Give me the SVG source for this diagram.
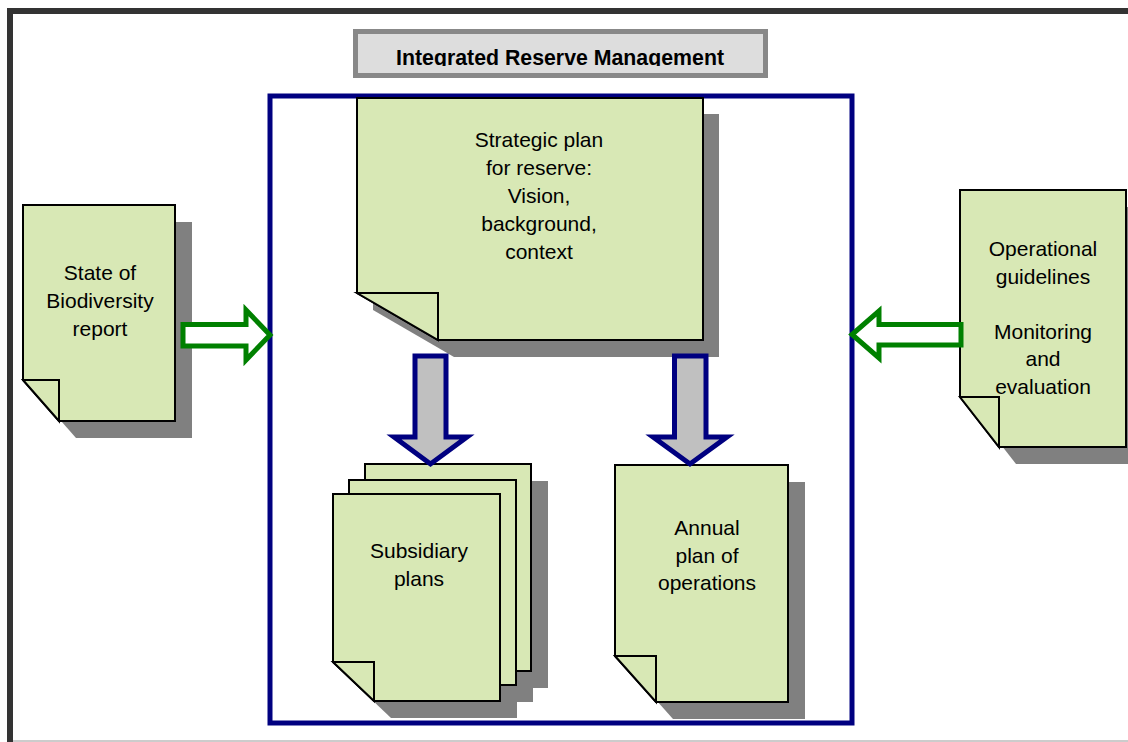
<svg xmlns="http://www.w3.org/2000/svg" width="1128" height="742" viewBox="0 0 1128 742">
<style>
.doc{fill:#d8e8b5;stroke:#000;stroke-width:2;stroke-linejoin:miter}
.sh{fill:#808080}
.t{font-family:"Liberation Sans",Arial,sans-serif;font-size:21px;fill:#000;text-anchor:middle}
.garrow{fill:#fff;stroke:#008000;stroke-width:5}
.darrow{fill:#c0c0c0;stroke:#000080;stroke-width:5}
</style>
<defs>
<clipPath id="titleclip"><rect x="355" y="35" width="410" height="31"/></clipPath>
</defs>
<rect x="0" y="0" width="1128" height="742" fill="#fff"/>
<g id="frame">
<rect x="7" y="8" width="1121" height="6" fill="#333"/>
<rect x="7" y="8" width="6" height="734" fill="#333"/>
<rect x="13" y="740" width="1115" height="2" fill="#ccc"/>
</g>
<g id="title">
<rect x="355.5" y="31.5" width="410" height="44" fill="#dddddd" stroke="#888" stroke-width="5"/>
<text x="560" y="65" clip-path="url(#titleclip)" style="font-family:'Liberation Sans',Arial,sans-serif;font-size:21.5px;font-weight:bold;text-anchor:middle" textLength="328" lengthAdjust="spacingAndGlyphs">Integrated Reserve Management</text>
</g>
<g id="reserve">
<rect x="270" y="96" width="582" height="627" fill="none" stroke="#000080" stroke-width="5"/>
</g>
<g id="strategic">
<path class="sh" d="M373,114 H719 V357 H454 L373,310 Z"/>
<path class="doc" d="M357,98 H703 V340 H438 L357,293 Z"/>
<path class="doc" d="M357,293 H438 V340 Z"/>
<text class="t" x="539" y="147">Strategic plan</text>
<text class="t" x="539" y="175">for reserve:</text>
<text class="t" x="539" y="203">Vision,</text>
<text class="t" x="539" y="231">background,</text>
<text class="t" x="539" y="259">context</text>
</g>
<g id="biodiversity">
<path class="sh" d="M40,222 H192 V438 H76 L40,397 Z"/>
<path class="doc" d="M23,205 H175 V421 H59 L23,380 Z"/>
<path class="doc" d="M23,380 H59 V421 Z"/>
<text class="t" x="100" y="280">State of</text>
<text class="t" x="100" y="308">Biodiversity</text>
<text class="t" x="100" y="336">report</text>
</g>
<g id="operational">
<path class="sh" d="M977,207 H1143 V464 H1016 L977,414 Z"/>
<path class="doc" d="M960,190 H1126 V447 H999 L960,397 Z"/>
<path class="doc" d="M960,397 H999 V447 Z"/>
<text class="t" x="1043" y="256">Operational</text>
<text class="t" x="1043" y="283.5">guidelines</text>
<text class="t" x="1043" y="338.5">Monitoring</text>
<text class="t" x="1043" y="366">and</text>
<text class="t" x="1043" y="393.5">evaluation</text>
</g>
<g id="subsidiary">
<path class="sh" d="M382,481 H548 V688 H423 L382,649 Z"/>
<path class="sh" d="M366,497 H533 V702 H407 L366,663 Z"/>
<path class="sh" d="M350,511 H517 V718 H391 L350,679 Z"/>
<path class="doc" d="M365,464 H531 V671 H406 L365,632 Z"/>
<path class="doc" d="M349,480 H516 V685 H390 L349,646 Z"/>
<path class="doc" d="M333,494 H500 V701 H374 L333,662 Z"/>
<path class="doc" d="M333,662 H374 V701 Z"/>
<text class="t" x="419" y="558">Subsidiary</text>
<text class="t" x="419" y="586">plans</text>
</g>
<g id="annual">
<path class="sh" d="M632,482 H805 V719 H673 L632,673 Z"/>
<path class="doc" d="M615,465 H788 V702 H656 L615,656 Z"/>
<path class="doc" d="M615,656 H656 V702 Z"/>
<text class="t" x="707" y="535">Annual</text>
<text class="t" x="707" y="563">plan of</text>
<text class="t" x="707" y="590">operations</text>
</g>
<g id="connectors">
<path class="garrow" d="M183,324.5 H246 V310 L270,335 L246,360 V346 H183 Z"/>
<path class="garrow" d="M961,324.5 H879 V311 L852,334.5 L879,358 V345 H961 Z"/>
<path class="darrow" d="M415,356 H446 V437 H467 L430.5,464 L394,437 H415 Z"/>
<path class="darrow" d="M674.5,356 H706 V437 H727 L690,464 L653,437 H674.5 Z"/>
</g>
</svg>
